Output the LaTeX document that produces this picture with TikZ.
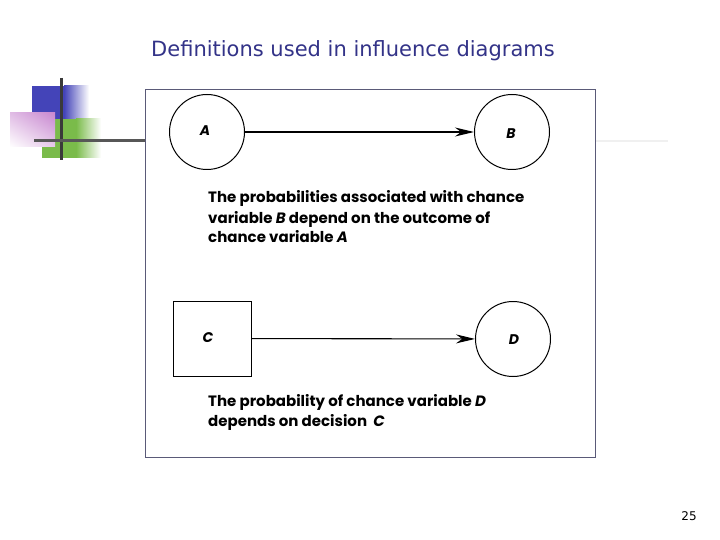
\documentclass[tikz,border=0pt]{standalone}
\usepackage{fontspec}
\setmainfont{Liberation Sans}
\newfontfamily\titlefont{DejaVu Sans}
\newfontfamily\figfont{Poppins}
\usetikzlibrary{arrows.meta,shadings}
\definecolor{titleblue}{HTML}{333388}
\definecolor{decoblue}{HTML}{4444B8}
\definecolor{decogreen}{HTML}{7ABB4A}
\definecolor{decopink}{HTML}{C888D0}
\definecolor{framecol}{HTML}{5A5A78}
\definecolor{barcol}{HTML}{3A3A3A}
\begin{document}
\begin{tikzpicture}[x=1pt,y=-1pt,
  chance/.style={draw,circle,line width=1pt,minimum size=75pt,inner sep=0pt},
  decision/.style={draw,line width=1pt,minimum width=78pt,minimum height=75pt,inner sep=0pt},
  infl/.style={line width=1.1pt,-{Stealth[length=19pt,width=9pt]}},
  lbl/.style={font=\figfont\bfseries\itshape\fontsize{14}{16}\selectfont},
  desc/.style={font=\figfont\bfseries\fontsize{15}{20}\selectfont,align=left,anchor=base west,inner sep=0pt}]
\useasboundingbox (0,0) rectangle (720,540);
\fill[white] (0,0) rectangle (720,540);
% decoration
\fill[decoblue] (32,86) rectangle (64,119);
\shade[left color=decoblue,right color=white] (64,86) rectangle (89,119);
\fill[decogreen] (42,119) rectangle (76,158);
\shade[left color=decogreen,right color=white] (76,119) rectangle (101,158);
\shade[upper right=decopink,lower left=white,upper left=decopink!55!white,lower right=decopink!45!white] (10,113) rectangle (55,147);
\draw[barcol,line width=3pt] (61,78) -- (61,160);
\draw[barcol!85,line width=3pt] (34,141) -- (145,141);
\draw[black!6,line width=2pt] (595,141) -- (668,141);
% title
\node[font=\titlefont\fontsize{21}{24}\selectfont,text=titleblue] (title) at (353,51) {Definitions used in influence diagrams};
% frame
\node[draw=framecol,line width=1pt,minimum width=450pt,minimum height=367pt,inner sep=0pt,fill=white] (frame) at (370,273.5) {};
% top pair
\node[chance] (A) at (207,132) {};
\node[lbl] at (205,131) {A};
\node[chance] (B) at (512,132) {};
\node[lbl] at (511,134) {B};
\draw[infl] (A) -- (B);
\node[desc] (t1) at (208,243) {The probabilities associated with chance\\variable \textit{B} depend on the outcome of\\chance variable \textit{A}};
% bottom pair
\node[decision] (C) at (212,338.5) {};
\node[lbl] at (208,338) {C};
\node[chance] (D) at (513,339) {};
\node[lbl] at (514,340) {D};
\draw[infl] (C) -- (D);
\node[desc] (t2) at (208,426) {The probability of chance variable \textit{D}\\depends on decision \ \textit{C}};
% page number
\node[font=\titlefont\fontsize{12}{14}\selectfont] (pg) at (689,516) {25};
\end{tikzpicture}
\end{document}
